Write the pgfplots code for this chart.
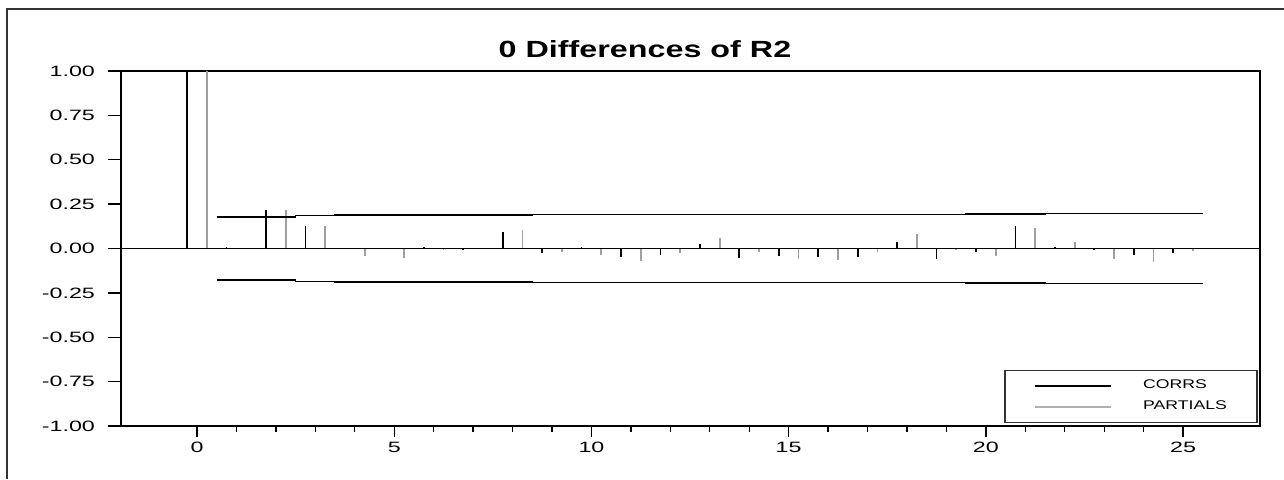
\documentclass[border=0pt]{standalone}
\usepackage{fontspec}
\setmainfont{Liberation Sans}
\usepackage{graphicx}
\usepackage{pgfplots}
\usepackage{pgfplotstable}
\pgfplotsset{compat=1.18}
\definecolor{PartGray}{RGB}{160,160,160}
\definecolor{LegGray}{RGB}{175,175,175}
\definecolor{Frame}{RGB}{50,50,50}
\newcommand\sx[1]{\scalebox{1.55}[1]{#1}}
\newcommand\lx[1]{\scalebox{1.4}[1]{#1}}

% lag positions: corrs at k-0.25, partials at k+0.25
\pgfplotstableread{
xc     corr    xp     part
-0.25  1.000   0.25   1.000
0.75   0.010   1.25   0.004
1.75   0.218   2.25   0.218
2.75   0.128   3.25   0.128
3.75   0.004   4.25  -0.043
4.75   0.004   5.25  -0.055
5.75   0.008   6.25  -0.006
6.75  -0.006   7.25   0.003
7.75   0.092   8.25   0.107
8.75  -0.023   9.25  -0.019
9.75   0.011  10.25  -0.038
10.75 -0.047  11.25  -0.070
11.75 -0.036  12.25  -0.026
12.75  0.026  13.25   0.062
13.75 -0.053  14.25  -0.020
14.75 -0.041  15.25  -0.060
15.75 -0.049  16.25  -0.066
16.75 -0.049  17.25  -0.020
17.75  0.034  18.25   0.083
18.75 -0.058  19.25  -0.010
19.75 -0.019  20.25  -0.043
20.75  0.124  21.25   0.117
21.75  0.006  22.25   0.034
22.75 -0.011  23.25  -0.060
23.75 -0.036  24.25  -0.077
24.75 -0.026  25.25  -0.013
}\acf

\pgfplotstableread{
x     up      lo
0.5   0.178  -0.178
1.5   0.178  -0.178
2.5   0.186  -0.186
3.5   0.189  -0.189
8.5   0.1905 -0.1905
11.5  0.191  -0.191
14.5  0.1917 -0.1917
16.5  0.192  -0.192
17.5  0.1924 -0.1924
18.5  0.1928 -0.1928
19.5  0.1936 -0.1936
21.5  0.1961 -0.1961
24.5  0.1964 -0.1964
25.5  0.1964 -0.1964
}\band

\begin{document}
\begin{tikzpicture}
\useasboundingbox (0,0) rectangle (642pt,239.5pt);
\draw[Frame,line width=0.75pt] (3.5pt,0) -- (3.5pt,235pt) -- (642pt,235pt);
\node[font=\bfseries\fontsize{11.7}{14}\selectfont] at (322.5pt,214.75pt) {\scalebox{1.38}[1]{0 Differences of R2}};
\begin{axis}[
  at={(60.5pt,26.5pt)},anchor=south west,
  scale only axis,width=569.5pt,height=177.5pt,
  xmin=-1.927,xmax=26.95,ymin=-1,ymax=1,
  xtick={0,5,10,15,20,25},
  xticklabels={\sx{0},\sx{5},\sx{10},\sx{15},\sx{20},\sx{25}},
  minor xtick={1,2,3,4,6,7,8,9,11,12,13,14,16,17,18,19,21,22,23,24},
  ytick={-1,-0.75,-0.5,-0.25,0,0.25,0.5,0.75,1},
  yticklabels={\sx{-1.00},\sx{-0.75},\sx{-0.50},\sx{-0.25},\sx{0.00},\sx{0.25},\sx{0.50},\sx{0.75},\sx{1.00}},
  xtick pos=left,ytick pos=left,tick align=outside,
  major tick length=6.5pt,minor tick length=2.85pt,
  xtick style={/pgfplots/major tick length=5.35pt},
  ticklabel style={font=\fontsize{7.5}{9}\selectfont},
  yticklabel style={xshift=-3pt},
  xticklabel style={yshift=2pt},
  axis line style={line width=0.7pt,black},
  tick style={line width=0.7pt,black},
  legend image code/.code={\draw[#1,line width=0.7pt] (0pt,0pt) -- (38pt,0pt);},
  legend style={at={(rel axis cs:0.998,0.0076)},anchor=south east,
    draw=Frame,line width=0.9pt,inner xsep=15pt,inner ysep=2.5pt,
    font=\fontsize{6.3}{7.5}\selectfont,
    nodes={inner sep=0pt,minimum height=10.5pt,anchor=west},
    /tikz/every odd column/.append style={column sep=15.5pt}},
  legend cell align=left
]
\addplot[ycomb,black,line width=0.9pt,mark=none] table[x=xc,y=corr]{\acf};
\addlegendentry{\lx{CORRS}}
\addplot[ycomb,PartGray,line width=0.9pt,mark=none,legend image post style={LegGray}] table[x=xp,y=part]{\acf};
\addlegendentry{\lx{PARTIALS}}
\addplot[black,line width=0.6pt,forget plot] coordinates {(-1.927,0) (26.95,0)};
\addplot[const plot mark left,black,line width=0.7pt,forget plot] table[x=x,y=up]{\band};
\addplot[const plot mark left,black,line width=0.7pt,forget plot] table[x=x,y=lo]{\band};
\end{axis}
\end{tikzpicture}
\end{document}
